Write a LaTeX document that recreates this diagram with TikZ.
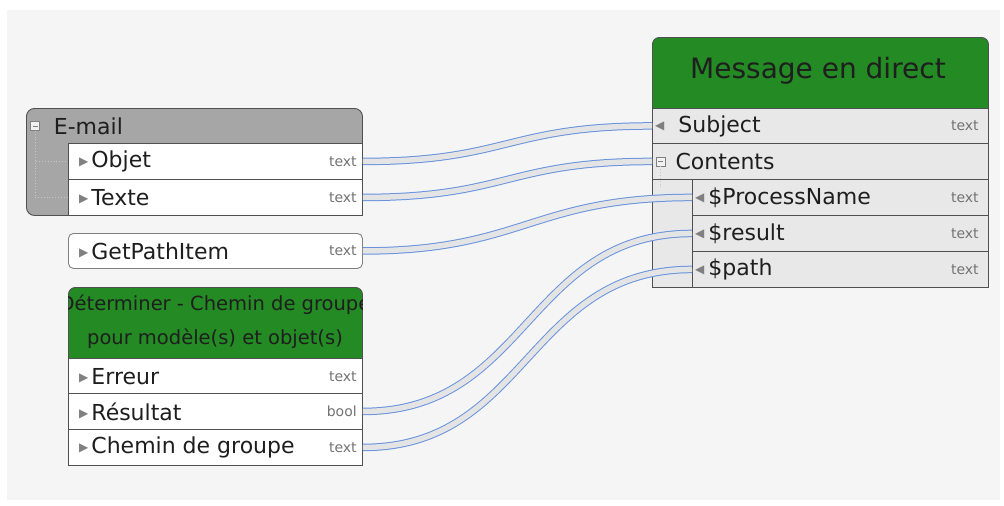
\documentclass[tikz,border=0pt]{standalone}
\usepackage{fontspec}
\setmainfont{DejaVu Sans}
\usetikzlibrary{positioning}

\definecolor{boxgreen}{RGB}{36,138,36}
\definecolor{groupgray}{RGB}{166,166,166}
\definecolor{rowgray}{RGB}{232,232,232}
\definecolor{edgegray}{RGB}{80,80,80}
\definecolor{wireblue}{RGB}{104,146,222}
\definecolor{wirefill}{RGB}{228,228,228}
\definecolor{canvas}{RGB}{245,245,245}
\definecolor{typegray}{RGB}{115,115,115}
\definecolor{trigray}{RGB}{128,128,128}
\definecolor{textdark}{RGB}{30,30,30}

\newcommand{\outtri}{\raisebox{2.5pt}{\color{trigray}\fontsize{12}{12}\selectfont▶}}
\newcommand{\intri}{\raisebox{2.5pt}{\color{trigray}\fontsize{12}{12}\selectfont◀}}

\begin{document}
\begin{tikzpicture}[x=1pt,y=-1pt,
        rowbox/.style={draw=edgegray, fill=white, line width=0.9pt, minimum width=294pt, minimum height=36pt, anchor=north west, inner sep=0pt},
        msgrow/.style={rowbox, fill=rowgray},
        greenhead/.style={draw=edgegray, fill=boxgreen, line width=0.9pt, rounded corners=7pt, anchor=north west, inner sep=0pt},
        groupbox/.style={draw=edgegray, fill=groupgray, line width=0.9pt, rounded corners=8pt, anchor=north west, inner sep=0pt},
        portlabel/.style={anchor=west, inner sep=0pt, text=textdark, font=\fontsize{22}{26}\selectfont},
        porttype/.style={anchor=east, inner sep=0pt, text=typegray, font=\fontsize{14}{16}\selectfont},
        headtext/.style={inner sep=0pt, text=textdark},
        toggle/.style={draw=trigray, fill=rowgray!60, minimum size=9pt, inner sep=0pt,
            path picture={\draw[trigray, line width=0.8pt] ([xshift=2pt]path picture bounding box.west) -- ([xshift=-2pt]path picture bounding box.east);}},
        tree/.style={draw=black!22, dotted, line width=0.9pt},
        wire/.style={draw=wireblue, double=wirefill, double distance=5.5pt, line width=1pt},
    ]
    \useasboundingbox (0,0) rectangle (1004,506);
    \fill[canvas] (7,10) rectangle (1000,500);

    % E-mail group
    \node[groupbox, minimum width=336pt, minimum height=107pt] (email) at (26,108) {};
    \node[toggle] (emtog) at (35,126) {};
    \node[portlabel, right=14pt of emtog] (emtitle) {E-mail};
    \node[rowbox] (objet) at (68,143) {};
    \node[rowbox] (texte) at (68,179) {};
    \draw[tree] (emtog.south) |- (objet.west);
    \draw[tree] (emtog.south) |- (texte.west);
    \node[portlabel, right=11pt of objet.west] (objetl) {\outtri\hspace{3pt}Objet};
    \node[porttype, left=6pt of objet.east] (objett) {text};
    \node[portlabel, right=11pt of texte.west] (textel) {\outtri\hspace{3pt}Texte};
    \node[porttype, left=6pt of texte.east] (textet) {text};

    % GetPathItem
    \node[rowbox, draw=trigray, rounded corners=5pt, minimum height=35pt] (getpath) at (68,233) {};
    \node[portlabel, right=11pt of getpath.west] (getpathl) {\outtri\hspace{3pt}GetPathItem};
    \node[porttype, left=6pt of getpath.east] (getpatht) {text};

    % Determiner
    \node[greenhead, minimum width=294pt, minimum height=79pt] (dethead) at (68,287) {};
    \begin{scope}
        \clip (68,287) rectangle (362,358);
        \node[headtext, align=center, font=\fontsize{19.5}{34}\selectfont] (dettitle) at (215,322) {Déterminer - Chemin de groupe\\pour modèle(s) et objet(s)};
    \end{scope}
    \node[rowbox] (erreur) at (68,358) {};
    \node[rowbox] (resultat) at (68,393) {};
    \node[rowbox] (chemin) at (68,429) {};
    \node[portlabel, right=11pt of erreur.west] (erreurl) {\outtri\hspace{3pt}Erreur};
    \node[porttype, left=6pt of erreur.east] (erreurt) {text};
    \node[portlabel, right=11pt of resultat.west] (resultatl) {\outtri\hspace{3pt}Résultat};
    \node[porttype, left=6pt of resultat.east] (resultatt) {bool};
    \node[portlabel, right=11pt of chemin.west] (cheminl) {\outtri\hspace{3pt}Chemin de groupe};
    \node[porttype, left=6pt of chemin.east] (chemint) {text};

    % Message en direct
    \node[greenhead, minimum width=336pt, minimum height=79pt] (msghead) at (652,37) {};
    \node[headtext, font=\fontsize{28}{32}\selectfont] (msgtitle) at (818,71) {Message en direct};
    \node[msgrow, minimum width=336pt, minimum height=179pt] (msgbody) at (652,108) {};
    \node[msgrow, minimum width=336pt, minimum height=35pt] (subj) at (652,108) {};
    \node[msgrow, minimum width=336pt] (cont) at (652,143) {};
    \node[msgrow, minimum width=296pt] (pname) at (692,179) {};
    \node[msgrow, minimum width=296pt] (result) at (692,215) {};
    \node[msgrow, minimum width=296pt] (pathin) at (692,251) {};
    \node[portlabel, right=3pt of subj.west] (subjl) {\intri\hspace{14pt}Subject};
    \node[porttype, left=10pt of subj.east] (subjt) {text};
    \node[toggle, right=4pt of cont.west] (conttog) {};
    \node[portlabel, right=10pt of conttog] (contl) {Contents};
    \draw[tree] (conttog.south) -- ++(0,22);
    \node[portlabel, right=3pt of pname.west] (pnamel) {\intri\hspace{4pt}\$ProcessName};
    \node[porttype, left=10pt of pname.east] (pnamet) {text};
    \node[portlabel, right=3pt of result.west] (resultl) {\intri\hspace{4pt}\$result};
    \node[porttype, left=10pt of result.east] (resultt) {text};
    \node[portlabel, right=3pt of pathin.west] (pathinl) {\intri\hspace{4pt}\$path};
    \node[porttype, left=10pt of pathin.east] (pathint) {text};

    % connections
    \foreach \src/\dst/\pull in {objet/subj/145, texte/cont/145, getpath/pname/160, resultat/result/165, chemin/pathin/165}
        \draw[wire] (\src.east) .. controls +(\pull,0) and +(-\pull,0) .. (\dst.west);
\end{tikzpicture}
\end{document}
